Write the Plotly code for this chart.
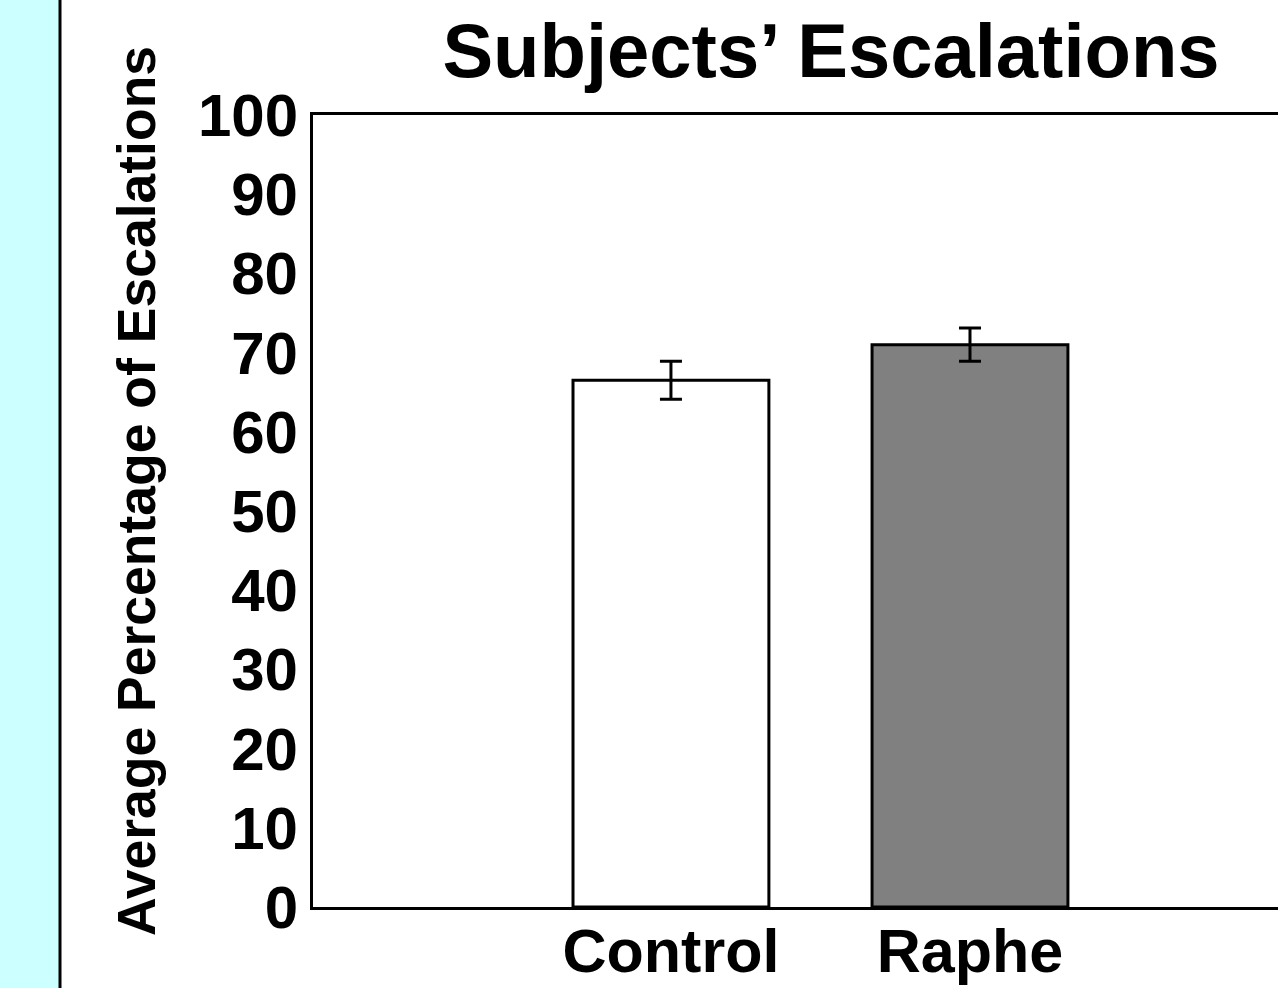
import plotly.graph_objects as go

categories = ["Control", "Raphe"]
means = [66.5, 71.0]
errors = [2.4, 2.1]
bar_colors = ["#ffffff", "#808080"]
y_ticks = [0, 10, 20, 30, 40, 50, 60, 70, 80, 90, 100]
y_title = "Average Percentage of Escalations"
chart_title = "Subjects’ Escalations"

FONT = "Liberation Sans, Arial, Helvetica, sans-serif"
PW, PH = 965, 792  # plot area size in px

fig = go.Figure()
fig.add_trace(go.Bar(
    x=categories, y=means, width=0.655,
    marker=dict(color=bar_colors, line=dict(color="black", width=3)),
    error_y=dict(type="data", array=errors, visible=True, color="black", thickness=3, width=11),
    showlegend=False,
))

fig.update_layout(
    width=1278, height=988,
    margin=dict(l=313, r=0, t=115, b=81),
    paper_bgcolor="white", plot_bgcolor="white",
    title=dict(text=chart_title, x=831/1278, xanchor="center",
               y=1 - 50/988, yanchor="middle",
               font=dict(family=FONT, size=76, color="black", weight="bold")),
    xaxis=dict(range=[-1.197, 2.03], showline=True, linecolor="black", linewidth=3,
               mirror=True, ticks="", showgrid=False, zeroline=False, automargin=False,
               ticklabelstandoff=-11,
               tickfont=dict(family=FONT, size=61, color="black", weight="bold")),
    yaxis=dict(range=[0, 100], tickvals=y_ticks, showline=True, linecolor="black", linewidth=3,
               ticks="", showgrid=False, zeroline=False, automargin=False,
               tickfont=dict(family=FONT, size=60, color="black", weight="bold")),
    annotations=[
        dict(text=y_title, xref="paper", yref="paper",
             x=(137 - 313) / PW, y=(907 - 491) / PH, xanchor="center", yanchor="middle",
             textangle=-90, showarrow=False,
             font=dict(family=FONT, size=53.5, color="black", weight="bold")),
    ],
    shapes=[
        dict(type="rect", xref="paper", yref="paper", x0=-313/PW, x1=(60-313)/PW,
             y0=-81/PH, y1=1 + 115/PH, fillcolor="#ccffff", line=dict(width=0), layer="below"),
        dict(type="line", xref="paper", yref="paper", x0=(60-313)/PW, x1=(60-313)/PW,
             y0=-81/PH, y1=1 + 115/PH, line=dict(color="black", width=3)),
    ],
)

post = (
    "var s=document.createElement('style');"
    "s.textContent='html,body{margin:0;padding:0;overflow:hidden;}"
    "body>div{display:block;width:1278px;height:988px;overflow:hidden;}';"
    "document.head.appendChild(s);"
)
fig.write_html("out.html", config={"displayModeBar": False}, post_script=post)
